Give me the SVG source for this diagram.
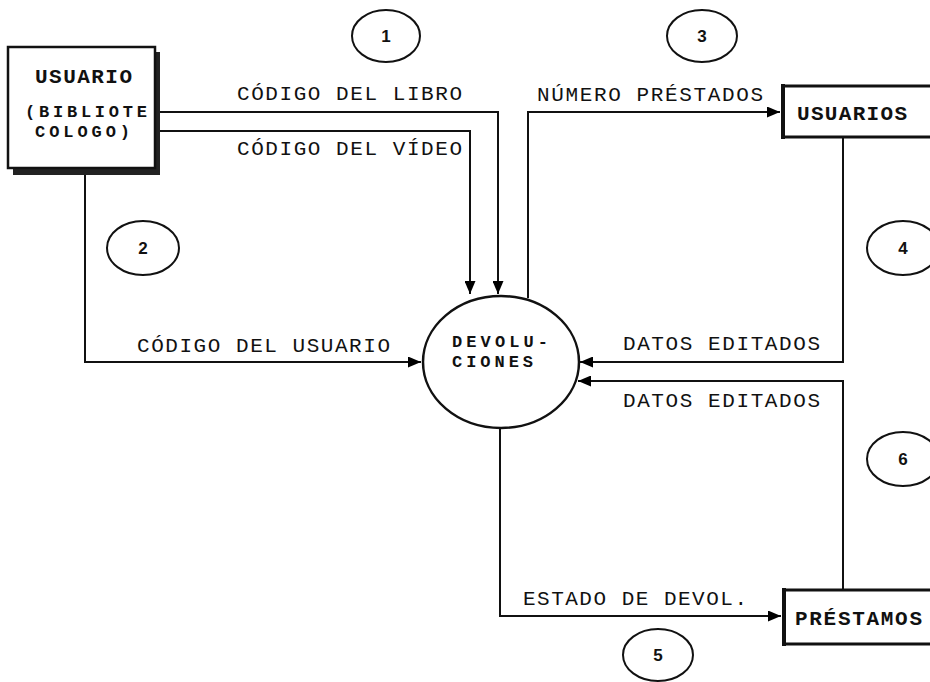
<svg xmlns="http://www.w3.org/2000/svg" width="930" height="682" viewBox="0 0 930 682">
<defs>
<marker id="arr" viewBox="0 0 13 11" refX="13" refY="5.5" markerWidth="13" markerHeight="11" markerUnits="userSpaceOnUse" orient="auto">
<path d="M0,0 L13,5.5 L0,11 Z" fill="#000"/>
</marker>
<style>
.lbl{font-family:"Liberation Mono","DejaVu Sans Mono",monospace;font-size:21px;fill:#111;}
.nd{font-family:"Liberation Mono","DejaVu Sans Mono",monospace;font-size:21px;font-weight:bold;fill:#111;}
.nds{font-family:"Liberation Mono","DejaVu Sans Mono",monospace;font-size:17px;font-weight:bold;fill:#111;}
.num{font-family:"Liberation Sans",Arial,sans-serif;font-size:17px;font-weight:bold;fill:#111;text-anchor:middle;}
.ln{fill:none;stroke:#111;stroke-width:2;}
.tag{fill:none;stroke:#111;stroke-width:2;}
</style>
</defs>
<rect width="930" height="682" fill="#fff"/>

<g id="connectors">
<polyline class="ln" points="157,112 498,112 498,294" marker-end="url(#arr)"/>
<polyline class="ln" points="157,131 470,131 470,294" marker-end="url(#arr)"/>
<polyline class="ln" points="85,175 85,362 421,362" marker-end="url(#arr)"/>
<polyline class="ln" points="528,298 528,112 780,112" marker-end="url(#arr)"/>
<polyline class="ln" points="843,138 843,362 580,362" marker-end="url(#arr)"/>
<polyline class="ln" points="843,590 843,381 578,381" marker-end="url(#arr)"/>
<polyline class="ln" points="500,428 500,616 781,616" marker-end="url(#arr)"/>
<text class="lbl" x="237" y="100" textLength="225" lengthAdjust="spacing">CÓDIGO DEL LIBRO</text>
<text class="lbl" x="237" y="155" textLength="225" lengthAdjust="spacing">CÓDIGO DEL VÍDEO</text>
<text class="lbl" x="537" y="101" textLength="226" lengthAdjust="spacing">NÚMERO PRÉSTADOS</text>
<text class="lbl" x="137" y="352" textLength="253" lengthAdjust="spacing">CÓDIGO DEL USUARIO</text>
<text class="lbl" x="623" y="350" textLength="197" lengthAdjust="spacing">DATOS EDITADOS</text>
<text class="lbl" x="623" y="407" textLength="197" lengthAdjust="spacing">DATOS EDITADOS</text>
<text class="lbl" x="523" y="605" textLength="224" lengthAdjust="spacing">ESTADO DE DEVOL.</text>
</g>

<g id="tags">
<g id="tag1"><ellipse class="tag" cx="386" cy="36" rx="34" ry="26"/><text class="num" x="386" y="42">1</text></g>
<g id="tag2"><ellipse class="tag" cx="143" cy="248" rx="36" ry="27"/><text class="num" x="143" y="254">2</text></g>
<g id="tag3"><ellipse class="tag" cx="702" cy="36" rx="35" ry="26"/><text class="num" x="702" y="42">3</text></g>
<g id="tag4"><ellipse class="tag" cx="903" cy="248" rx="36" ry="27"/><text class="num" x="903" y="254">4</text></g>
<g id="tag5"><ellipse class="tag" cx="658" cy="655" rx="35" ry="26"/><text class="num" x="658" y="661">5</text></g>
<g id="tag6"><ellipse class="tag" cx="903" cy="459" rx="36" ry="27"/><text class="num" x="903" y="465">6</text></g>
</g>

<g id="usuario">
<rect x="13" y="52" width="147" height="123" fill="#222"/>
<rect x="8" y="47" width="147" height="121" fill="#fff" stroke="#111" stroke-width="2.5"/>
<text class="nd" x="35" y="83" textLength="97" lengthAdjust="spacing">USUARIO</text>
<text class="nds" x="25" y="117" textLength="122" lengthAdjust="spacing">(BIBLIOTE</text>
<text class="nds" x="35" y="137" textLength="95" lengthAdjust="spacing">COLOGO)</text>
</g>

<g id="devoluciones">
<ellipse cx="501" cy="362" rx="78" ry="66" fill="#fff" stroke="#111" stroke-width="2.5"/>
<text class="nds" x="452" y="347" textLength="96" lengthAdjust="spacing">DEVOLU-</text>
<text class="nds" x="452" y="367" textLength="81" lengthAdjust="spacing">CIONES</text>
</g>

<g id="usuarios">
<path d="M930,86 L783,86 L783,137 L930,137" fill="none" stroke="#111" stroke-width="3"/>
<line x1="783" y1="84" x2="783" y2="139" stroke="#111" stroke-width="4"/>
<text class="nd" x="797" y="120" textLength="110" lengthAdjust="spacing">USUARIOS</text>
</g>

<g id="prestamos">
<path d="M930,590 L784,590 L784,644 L930,644" fill="none" stroke="#111" stroke-width="3"/>
<line x1="784" y1="588" x2="784" y2="646" stroke="#111" stroke-width="4"/>
<text class="nd" x="795" y="625" textLength="127" lengthAdjust="spacing">PRÉSTAMOS</text>
</g>
</svg>
